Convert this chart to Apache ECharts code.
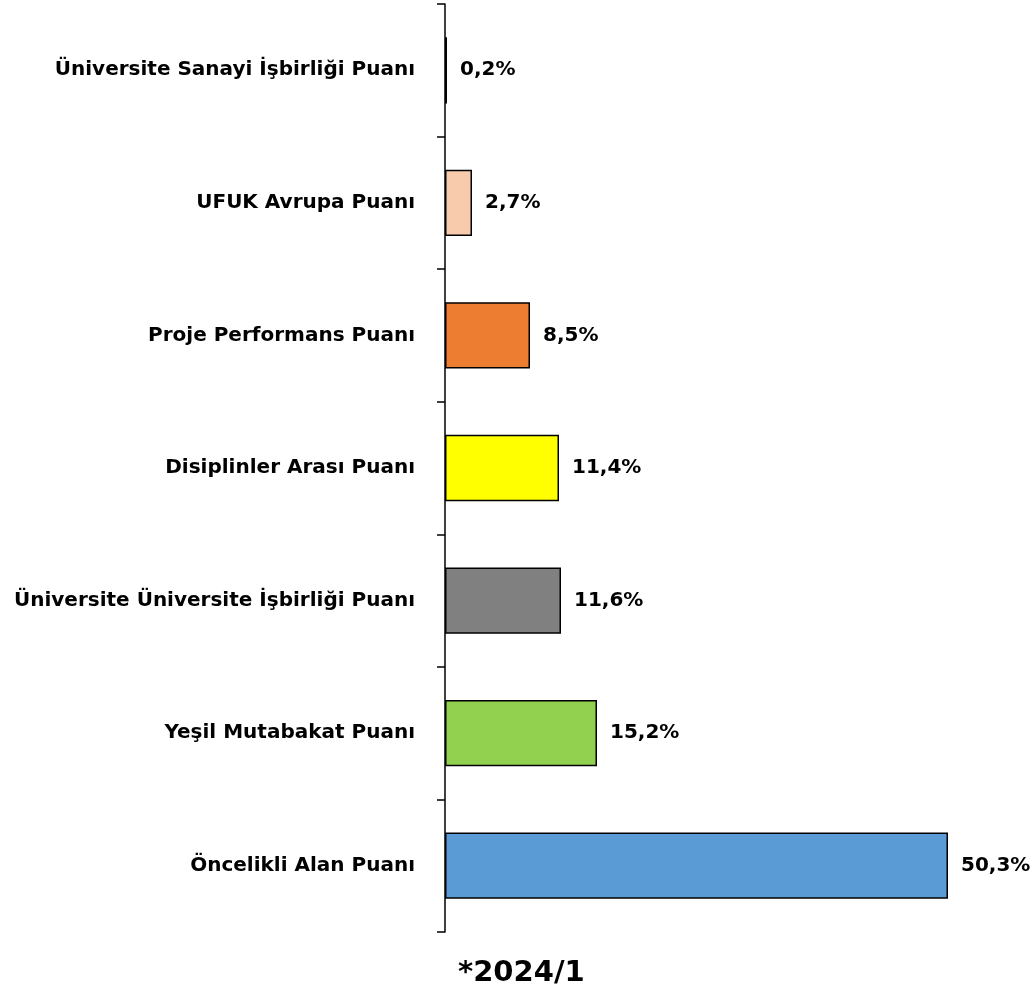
<!DOCTYPE html>
<html>
<head>
<meta charset="utf-8">
<script src="https://cdn.jsdelivr.net/npm/echarts@6/dist/echarts.min.js"></script>
<style>
  html, body { margin: 0; padding: 0; background: #fff; }
  #main { width: 1035px; height: 995px; }
</style>
</head>
<body>
<div id="main"></div>
<script>
  // bottom to top, as the chart reads
  const categories = [
    'Öncelikli Alan Puanı',
    'Yeşil Mutabakat Puanı',
    'Üniversite Üniversite İşbirliği Puanı',
    'Disiplinler Arası Puanı',
    'Proje Performans Puanı',
    'UFUK Avrupa Puanı',
    'Üniversite Sanayi İşbirliği Puanı'
  ];
  const values = [50.3, 15.2, 11.6, 11.4, 8.5, 2.7, 0.2];
  const barColors = ['#5B9BD5', '#92D050', '#808080', '#FFFF00', '#ED7D31', '#F8CBAD', '#000000'];
  const titleText = '*2024/1';

  const chart = echarts.init(document.getElementById('main'));
  const font = '"DejaVu Sans", sans-serif';

  const option = {
    backgroundColor: '#fff',
    animation: false,
    title: {
      text: titleText,
      left: 453,
      bottom: 2,
      textStyle: { fontFamily: font, fontSize: 29, fontWeight: 'bold', color: '#000' }
    },
    grid: { left: 445, right: 10, top: 4, bottom: 63 },
    xAxis: {
      type: 'value',
      min: 0,
      max: 58,
      show: false
    },
    yAxis: {
      type: 'category',
      data: categories,
      axisLine: { show: true, lineStyle: { color: '#000', width: 1.5 } },
      axisTick: { show: true, length: 8, lineStyle: { color: '#000', width: 1.5 } },
      axisLabel: {
        margin: 30,
        color: '#000',
        fontFamily: font,
        fontSize: 20,
        fontWeight: 'bold'
      }
    },
    series: [{
      type: 'bar',
      barWidth: '50%',
      data: values.map((v, i) => ({
        value: v,
        itemStyle: { color: barColors[i], borderColor: '#000', borderWidth: 1.5 }
      })),
      label: {
        show: true,
        position: 'right',
        distance: 13,
        color: '#000',
        fontFamily: font,
        fontSize: 20,
        fontWeight: 'bold',
        formatter: p => p.value.toFixed(1).replace('.', ',') + '%'
      }
    }]
  };
  chart.setOption(option);
</script>
</body>
</html>
